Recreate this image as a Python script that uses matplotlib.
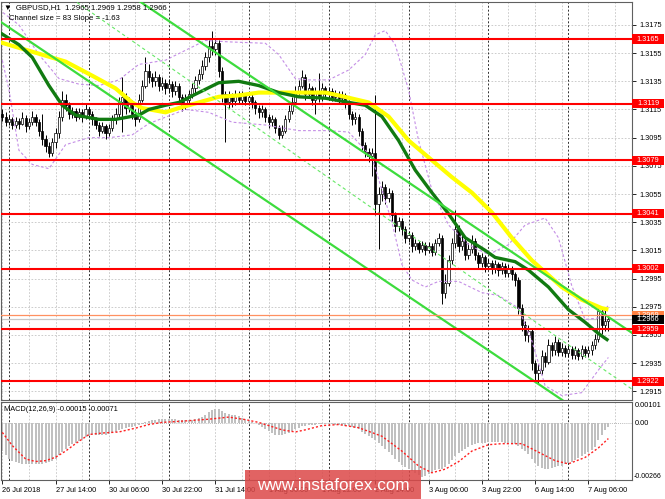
import numpy as np
import matplotlib
matplotlib.use("Agg")
import matplotlib.pyplot as plt
from matplotlib.transforms import blended_transform_factory
from matplotlib.patches import Rectangle

plt.rcParams['font.family'] = ['Liberation Sans', 'DejaVu Sans']

# ---------------- DATA ----------------
first_open = 1.3112
closes = [
    1.3110, 1.3106, 1.3108, 1.3104, 1.3107, 1.3105, 1.3109, 1.3103, 1.3106, 1.3110,
    1.3106, 1.3100, 1.3094, 1.3089, 1.3084, 1.3092, 1.3098, 1.3110, 1.3122, 1.3118,
    1.3112, 1.3114, 1.3110, 1.3113, 1.3110, 1.3115, 1.3112, 1.3108, 1.3104, 1.3100,
    1.3103, 1.3098, 1.3102, 1.3108, 1.3112, 1.3120, 1.3124, 1.3116, 1.3120, 1.3112,
    1.3108, 1.3122, 1.3132, 1.3142, 1.3138, 1.3135, 1.3138, 1.3132, 1.3134, 1.3130,
    1.3133, 1.3128, 1.3132, 1.3124, 1.3118, 1.3122, 1.3126, 1.3130, 1.3136, 1.3140,
    1.3146, 1.3152, 1.3160, 1.3158, 1.3162, 1.3142, 1.3126, 1.3120, 1.3124, 1.3121,
    1.3126, 1.3122, 1.3125, 1.3121, 1.3124, 1.3120, 1.3116, 1.3113, 1.3115, 1.3110,
    1.3106, 1.3108, 1.3102, 1.3097, 1.3100, 1.3108, 1.3114, 1.3120, 1.3128, 1.3132,
    1.3138, 1.3126, 1.3130, 1.3122, 1.3128, 1.3124, 1.3130, 1.3126, 1.3128, 1.3124,
    1.3126, 1.3123, 1.3125, 1.3120, 1.3112, 1.3108, 1.3110, 1.3100, 1.3090, 1.3085,
    1.3082, 1.3084, 1.3048, 1.3055, 1.3060, 1.3052, 1.3056, 1.3040, 1.3032, 1.3036,
    1.3030, 1.3024, 1.3026, 1.3018, 1.3020, 1.3016, 1.3019, 1.3015, 1.3018, 1.3014,
    1.3020, 1.3024, 1.2985, 1.2992, 1.3008, 1.3020, 1.3030, 1.3018, 1.3022, 1.3012,
    1.3016, 1.3022, 1.3012, 1.3006, 1.3010, 1.3004, 1.3006, 1.3002, 1.3005, 1.3001,
    1.3004, 1.2999, 1.3002, 1.2998, 1.2994, 1.2974, 1.2962, 1.2955, 1.2958, 1.2935,
    1.2928, 1.2930, 1.2940, 1.2936, 1.2948, 1.2944, 1.2950, 1.2943, 1.2946, 1.2942,
    1.2945, 1.2941, 1.2944, 1.2940, 1.2945, 1.2942, 1.2944, 1.2948, 1.2952, 1.2972,
    1.2962, 1.2965, 1.2966,
]
highs = [
    1.3115, 1.3113, 1.3111, 1.3110, 1.3110, 1.3109, 1.3113, 1.3111, 1.3109, 1.3114,
    1.3112, 1.3108, 1.3112, 1.3097, 1.3092, 1.3095, 1.3102, 1.3114, 1.3128, 1.3126,
    1.3120, 1.3117, 1.3116, 1.3116, 1.3115, 1.3119, 1.3117, 1.3114, 1.3110, 1.3106,
    1.3106, 1.3105, 1.3105, 1.3111, 1.3116, 1.3124, 1.3138, 1.3127, 1.3124, 1.3122,
    1.3115, 1.3126, 1.3136, 1.3152, 1.3147, 1.3141, 1.3142, 1.3140, 1.3138, 1.3137,
    1.3137, 1.3135, 1.3135, 1.3134, 1.3126, 1.3126, 1.3129, 1.3134, 1.3139, 1.3144,
    1.3150, 1.3156, 1.3164, 1.3171, 1.3166, 1.3164, 1.3145, 1.3128, 1.3128, 1.3127,
    1.3129, 1.3128, 1.3128, 1.3127, 1.3127, 1.3126, 1.3122, 1.3118, 1.3118, 1.3117,
    1.3112, 1.3111, 1.3110, 1.3104, 1.3104, 1.3111, 1.3118, 1.3124, 1.3132, 1.3136,
    1.3143, 1.3140, 1.3134, 1.3132, 1.3131, 1.3141, 1.3134, 1.3132, 1.3131, 1.3130,
    1.3129, 1.3128, 1.3128, 1.3127, 1.3122, 1.3114, 1.3113, 1.3112, 1.3102, 1.3092,
    1.3088, 1.3088, 1.3125, 1.3060, 1.3064, 1.3062, 1.3059, 1.3058, 1.3042, 1.3039,
    1.3038, 1.3032, 1.3029, 1.3028, 1.3023, 1.3022, 1.3022, 1.3021, 1.3021, 1.3020,
    1.3023, 1.3027, 1.3026, 1.2998, 1.3012, 1.3024, 1.3044, 1.3033, 1.3026, 1.3024,
    1.3020, 1.3026, 1.3024, 1.3014, 1.3013, 1.3012, 1.3009, 1.3008, 1.3008, 1.3007,
    1.3007, 1.3006, 1.3005, 1.3004, 1.3000, 1.2996, 1.2977, 1.2965, 1.2962, 1.2960,
    1.2937, 1.2934, 1.2944, 1.2943, 1.2952, 1.2950, 1.2954, 1.2952, 1.2949, 1.2948,
    1.2948, 1.2947, 1.2947, 1.2946, 1.2948, 1.2947, 1.2947, 1.2951, 1.2956, 1.2975,
    1.2974, 1.2975, 1.2969,
]
lows = [
    1.3107, 1.3103, 1.3104, 1.3101, 1.3102, 1.3101, 1.3104, 1.3099, 1.3101, 1.3104,
    1.3103, 1.3096, 1.3090, 1.3085, 1.3081, 1.3082, 1.3088, 1.3095, 1.3107, 1.3114,
    1.3108, 1.3109, 1.3107, 1.3108, 1.3106, 1.3108, 1.3109, 1.3104, 1.3101, 1.3096,
    1.3098, 1.3094, 1.3096, 1.3100, 1.3105, 1.3110, 1.3099, 1.3112, 1.3113, 1.3108,
    1.3103, 1.3106, 1.3120, 1.3130, 1.3134, 1.3131, 1.3132, 1.3128, 1.3129, 1.3126,
    1.3127, 1.3124, 1.3125, 1.3120, 1.3114, 1.3115, 1.3119, 1.3123, 1.3127, 1.3133,
    1.3137, 1.3143, 1.3149, 1.3154, 1.3154, 1.3138, 1.3120, 1.3092, 1.3116, 1.3117,
    1.3118, 1.3119, 1.3119, 1.3118, 1.3118, 1.3116, 1.3112, 1.3109, 1.3110, 1.3106,
    1.3102, 1.3103, 1.3098, 1.3094, 1.3095, 1.3098, 1.3106, 1.3112, 1.3118, 1.3125,
    1.3130, 1.3122, 1.3123, 1.3118, 1.3112, 1.3120, 1.3121, 1.3123, 1.3123, 1.3121,
    1.3121, 1.3119, 1.3120, 1.3116, 1.3108, 1.3104, 1.3105, 1.3096, 1.3086, 1.3081,
    1.3078, 1.3068, 1.3040, 1.3016, 1.3050, 1.3048, 1.3049, 1.3036, 1.3028, 1.3029,
    1.3026, 1.3020, 1.3021, 1.3014, 1.3015, 1.3013, 1.3014, 1.3012, 1.3013, 1.3011,
    1.3012, 1.3018, 1.2977, 1.2981, 1.2990, 1.3005, 1.3017, 1.3014, 1.3015, 1.3008,
    1.3009, 1.3013, 1.3008, 1.3002, 1.3003, 1.3000, 1.3001, 1.2998, 1.2999, 1.2997,
    1.2998, 1.2996, 1.2996, 1.2994, 1.2990, 1.2970, 1.2958, 1.2951, 1.2950, 1.2930,
    1.2923, 1.2921, 1.2927, 1.2932, 1.2934, 1.2940, 1.2941, 1.2940, 1.2940, 1.2939,
    1.2939, 1.2938, 1.2938, 1.2937, 1.2938, 1.2939, 1.2939, 1.2941, 1.2945, 1.2950,
    1.2956, 1.2958, 1.2958,
]

# moving averages (bar index, price)
ma_green_bars = [-1, 5, 9, 14, 18, 22, 29, 34, 41, 44, 49, 53, 59, 65, 71, 77, 83, 89, 97,
                 109, 114, 119, 124, 129, 134, 139, 145, 148, 154, 158, 164, 170, 175, 179, 182]
ma_green_vals = [1.3170, 1.3161, 1.3152, 1.3132, 1.3118, 1.3111, 1.3108, 1.3108, 1.3111, 1.3115,
                 1.3118, 1.3120, 1.3127, 1.3134, 1.3135, 1.3132, 1.3127, 1.3124, 1.3123,
                 1.3118, 1.3110, 1.3093, 1.3072, 1.3056, 1.3041, 1.3024, 1.3015, 1.3010,
                 1.3007, 1.3001, 1.2989, 1.2973, 1.2964, 1.2956, 1.2951]
ma_yellow_bars = [-1, 9, 19, 27, 34, 39, 42, 49, 53, 59, 65, 71, 77, 83, 89, 97, 101, 110,
                  116, 122, 129, 135, 141, 147, 153, 159, 168, 174, 180, 182]
ma_yellow_vals = [1.3163, 1.3156, 1.3149, 1.3139, 1.3130, 1.3120, 1.3116, 1.3113, 1.3116, 1.3120,
                  1.3124, 1.3125, 1.3127, 1.3127, 1.3127, 1.3127, 1.3125, 1.3120, 1.3110,
                  1.3093, 1.3079, 1.3067, 1.3056, 1.3042, 1.3024, 1.3008, 1.2989, 1.2980,
                  1.2974, 1.2973]

# envelope bands (bar index, price)
band_up_bars = [-1, 5, 11, 17, 23, 29, 35, 41, 49, 55, 61, 68, 79, 83, 88, 92, 98, 104, 109,
                112, 115, 118, 122, 125, 129, 134, 140, 146, 152, 157, 163, 167, 171, 175, 179, 182]
band_up_vals = [1.3186, 1.3175, 1.3154, 1.3137, 1.3133, 1.3132, 1.3136, 1.3147, 1.3150, 1.3157,
                1.3164, 1.3163, 1.3162, 1.3154, 1.3137, 1.3136, 1.3136, 1.3143, 1.3154,
                1.3168, 1.3171, 1.3161, 1.3129, 1.3093, 1.3058, 1.3033, 1.3019, 1.3012,
                1.3019, 1.3033, 1.3038, 1.3024, 1.2990, 1.2966, 1.2967, 1.2976]
band_lo_bars = [0, 2, 5, 9, 14, 19, 26, 32, 39, 44, 55, 62, 69, 79, 89, 98, 104, 111, 114,
                117, 120, 123, 127, 131, 137, 144, 149, 155, 159, 163, 168, 174, 179, 182]
band_lo_vals = [1.3150, 1.3129, 1.3086, 1.3076, 1.3073, 1.3090, 1.3095, 1.3095, 1.3097, 1.3105,
                1.3115, 1.3113, 1.3106, 1.3104, 1.3100, 1.3100, 1.3099, 1.3081, 1.3058,
                1.3035, 1.3005, 1.2994, 1.2989, 1.2993, 1.2993, 1.2985, 1.2983, 1.2974,
                1.2951, 1.2919, 1.2912, 1.2914, 1.2930, 1.2939]

# channel lines (two end points each: bar, price)
chan_low_bars = [-1, 190]
chan_low_vals = [1.3178, 1.2874]
chan_up_bars = [-1, 190]
chan_up_vals = [1.3259, 1.2955]
chan_mid_bars = [20, 190]
chan_mid_vals = [1.3195, 1.2915]

red_levels = [1.3165, 1.3119, 1.3079, 1.3041, 1.3002, 1.2959, 1.2922]
ask_price = 1.2969
bid_price = 1.2966
price_ticks = [1.2915, 1.2935, 1.2955, 1.2975, 1.2995, 1.3015, 1.3035, 1.3055,
               1.3075, 1.3095, 1.3115, 1.3135, 1.3155, 1.3175]

# MACD (units of 1e-5)
macd_hist = [
    -130, -150, -165, -175, -182, -188, -190, -192, -193, -193,
    -192, -190, -190, -185, -182, -175, -165, -150, -135, -120,
    -108, -98, -90, -82, -74, -66, -60, -56, -55, -55,
    -54, -52, -50, -46, -40, -33, -26, -22, -18, -15,
    -13, -8, -2, 5, 10, 14, 18, 20, 22, 22,
    22, 21, 20, 18, 15, 14, 14, 16, 20, 25,
    32, 42, 54, 62, 70, 66, 58, 50, 45, 42,
    40, 35, 28, 22, 15, 8, 0, -8, -15, -25,
    -35, -45, -52, -55, -55, -50, -44, -36, -28, -20,
    -12, -10, -8, -6, -5, -3, -2, -2, -3, -4,
    -5, -6, -8, -10, -10, -15, -20, -28, -38, -48,
    -58, -68, -80, -92, -104, -120, -135, -150, -165, -180,
    -195, -205, -214, -222, -232, -242, -250, -246, -238, -230,
    -220, -212, -215, -205, -190, -172, -155, -140, -128, -118,
    -110, -103, -98, -94, -92, -90, -89, -88, -88, -89,
    -89, -90, -91, -92, -95, -105, -118, -130, -145, -165,
    -185, -200, -210, -214, -212, -210, -206, -202, -198, -192,
    -186, -180, -172, -164, -155, -146, -136, -126, -110, -80,
    -55, -32, -15,
]
signal_bars = [0, 3, 7, 10, 13, 16, 19, 22, 26, 30, 35, 40, 44, 48, 55, 62, 68, 73, 77, 80,
               84, 88, 91, 96, 101, 107, 114, 120, 125, 129, 133, 137, 141, 146, 150, 156,
               161, 166, 170, 175, 179, 182]
signal_vals = [-42, -104, -167, -179, -175, -159, -130, -95, -52, -45, -40, -22, -5, 5, 12, 20,
               30, 18, 5, -10, -30, -40, -30, -10, -5, -20, -60, -130, -200, -232, -215,
               -180, -130, -100, -95, -95, -135, -175, -190, -160, -115, -71]

time_label_bars = [0, 16, 32, 48, 64, 80, 96, 112, 128, 144, 160, 176]
time_labels = ['26 Jul 2018', '27 Jul 14:00', '30 Jul 06:00', '30 Jul 22:00', '31 Jul 14:00',
               '1 Aug 06:00', '1 Aug 22:00', '2 Aug 14:00', '3 Aug 06:00', '3 Aug 22:00',
               '6 Aug 14:00', '7 Aug 06:00']
day_sep_bars = [2, 26, 50, 74, 98, 122, 146, 170]
grid_bars = list(range(0, 190, 8))

# ---------------- FIGURE ----------------
W, H = 665, 499
fig = plt.figure(figsize=(W / 100, H / 100), dpi=100)
fig.patch.set_facecolor('white')


def fx(px):
    return px / W


def fy(py):
    return 1 - py / H


L, R = 1, 632
ax = fig.add_axes([fx(L), fy(400), fx(R) - fx(L), fy(2) - fy(400)])
axm = fig.add_axes([fx(L), fy(480), fx(R) - fx(L), fy(402) - fy(480)])

xlim = (-0.39, 189.1)
ylim = (1.29088, 1.31913)
mlim = (-0.00266, 0.00101)
for a in (ax, axm):
    a.set_xlim(*xlim)
    a.set_facecolor('white')
    for s in a.spines.values():
        s.set_color('#606060')
        s.set_linewidth(0.8)
ax.set_ylim(*ylim)
axm.set_ylim(*mlim)

FS = 5.3
grid_kw = dict(color='#c4c4c4', lw=0.6, linestyle=(0, (2, 2)), zorder=0)
sep_kw = dict(color='#303030', lw=0.7, linestyle=(0, (2, 2)), zorder=0.5)
for a in (ax, axm):
    for b in grid_bars:
        a.axvline(b, **grid_kw)
    for b in day_sep_bars:
        a.axvline(b, **sep_kw)
for p in price_ticks:
    ax.axhline(p, **grid_kw)

# candles
o = np.array([first_open] + closes[:-1])
c = np.array(closes)
hi = np.array(highs)
lo = np.array(lows)
idx = np.arange(len(c))
up = c >= o
bb = np.minimum(o, c)
bh = np.maximum(np.abs(c - o), 0.00003)
ax.vlines(idx, lo, hi, color='black', lw=0.7, zorder=3)
ax.bar(idx[up], bh[up], bottom=bb[up], width=0.66, color='white', edgecolor='black',
       linewidth=0.5, zorder=4)
ax.bar(idx[~up], bh[~up], bottom=bb[~up], width=0.66, color='black', edgecolor='black',
       linewidth=0.5, zorder=4)

# bands
band_kw = dict(color='#c48ee6', lw=0.8, linestyle=(0, (2.5, 2)), zorder=5)
ax.plot(band_up_bars, band_up_vals, **band_kw)
ax.plot(band_lo_bars, band_lo_vals, **band_kw)

# moving averages
ax.plot(ma_yellow_bars, ma_yellow_vals, color='#ffff00', lw=3.0, zorder=6, solid_capstyle='butt')
ax.plot(ma_green_bars, ma_green_vals, color='#117a11', lw=2.4, zorder=6.5, solid_capstyle='butt')

# channel
ax.plot(chan_low_bars, chan_low_vals, color='#3ddc3d', lw=1.6, zorder=7)
ax.plot(chan_up_bars, chan_up_vals, color='#3ddc3d', lw=1.6, zorder=7)
ax.plot(chan_mid_bars, chan_mid_vals, color='#66e866', lw=0.8, linestyle=(0, (3, 2.5)), zorder=7)

# horizontal levels
for lvl in red_levels:
    ax.axhline(lvl, color='#ff0000', lw=1.5, zorder=8)
ax.axhline(ask_price, color='#ff9060', lw=0.9, zorder=8)
ax.axhline(bid_price, color='#c8c8c8', lw=0.9, zorder=2)

# right price axis
ax.yaxis.tick_right()
ax.set_yticks(price_ticks)
ax.set_yticklabels([f'{p:.4f}' for p in price_ticks], fontsize=FS)
ax.tick_params(axis='y', length=3, width=0.6, pad=2, colors='black')
ax.set_xticks([])

trans = blended_transform_factory(ax.transAxes, ax.transData)
box_w = 32 / (R - L)
half = (ylim[1] - ylim[0]) / 398 * 4.6


def price_box(val, fc, tc='white'):
    ax.add_patch(Rectangle((1.0, val - half), box_w, 2 * half, transform=trans, facecolor=fc,
                           edgecolor='none', clip_on=False, zorder=10))
    ax.text(1.0 + box_w / 2, val, f'{val:.4f}', transform=trans, color=tc, fontsize=FS,
            ha='center', va='center', clip_on=False, zorder=11)


for lvl in red_levels:
    price_box(lvl, '#ff0000')
price_box(ask_price, '#ff8040')
price_box(bid_price, '#000000')

# MACD
mh = np.array(macd_hist) * 1e-5
axm.bar(np.arange(len(mh)), mh, width=0.6, color='#c0c0c0', zorder=2)
axm.plot(signal_bars, np.array(signal_vals) * 1e-5, color='#ff2020', lw=1.0,
         linestyle=(0, (1.5, 1.5)), zorder=3)
axm.axhline(0, color='#a0a0a0', lw=0.6, linestyle=(0, (1, 1.5)), zorder=1)
axm.set_yticks([])
axm.set_xticks(time_label_bars)
axm.set_xticklabels([])
axm.tick_params(axis='x', length=3, width=0.6, colors='black')
mtrans = blended_transform_factory(axm.transAxes, axm.transData)
axm.text(1.004, mlim[1], '0.00101', transform=mtrans, fontsize=FS, ha='left', va='top', clip_on=False)
axm.text(1.004, 0.0, '0.00', transform=mtrans, fontsize=FS, ha='left', va='center', clip_on=False)
axm.text(1.002, mlim[0], '-0.00266', transform=mtrans, fontsize=5.0, ha='left', va='bottom', clip_on=False)
axm.text(0.004, 0.9, 'MACD(12,26,9) -0.00015 -0.00071', transform=axm.transAxes, fontsize=FS,
         ha='left', va='center', zorder=12)

xtrans = blended_transform_factory(axm.transData, axm.transAxes)
for b, t in zip(time_label_bars, time_labels):
    axm.text(b, -0.13, t, transform=xtrans, fontsize=FS, ha='left', va='center', clip_on=False)

# header texts
fig.text(fx(4), fy(8), '\u25bc  GBPUSD,H1  1.2965 1.2969 1.2958 1.2966', fontsize=5.6,
         ha='left', va='center', family=['Liberation Sans', 'DejaVu Sans'])
fig.text(fx(9), fy(19), 'Channel size = 83 Slope = -1.63', fontsize=5.6, ha='left', va='center')

# watermark
fig.patches.append(Rectangle((fx(245), fy(499)), fx(421) - fx(245), fy(470) - fy(499),
                             transform=fig.transFigure, facecolor='#dc4848', alpha=0.85,
                             edgecolor='none', zorder=20))
fig.text(fx(333), fy(485), 'www.instaforex.com', fontsize=12.3, color='white', ha='center',
         va='center', zorder=21)

fig.savefig('out.png', dpi=100, facecolor='white')
